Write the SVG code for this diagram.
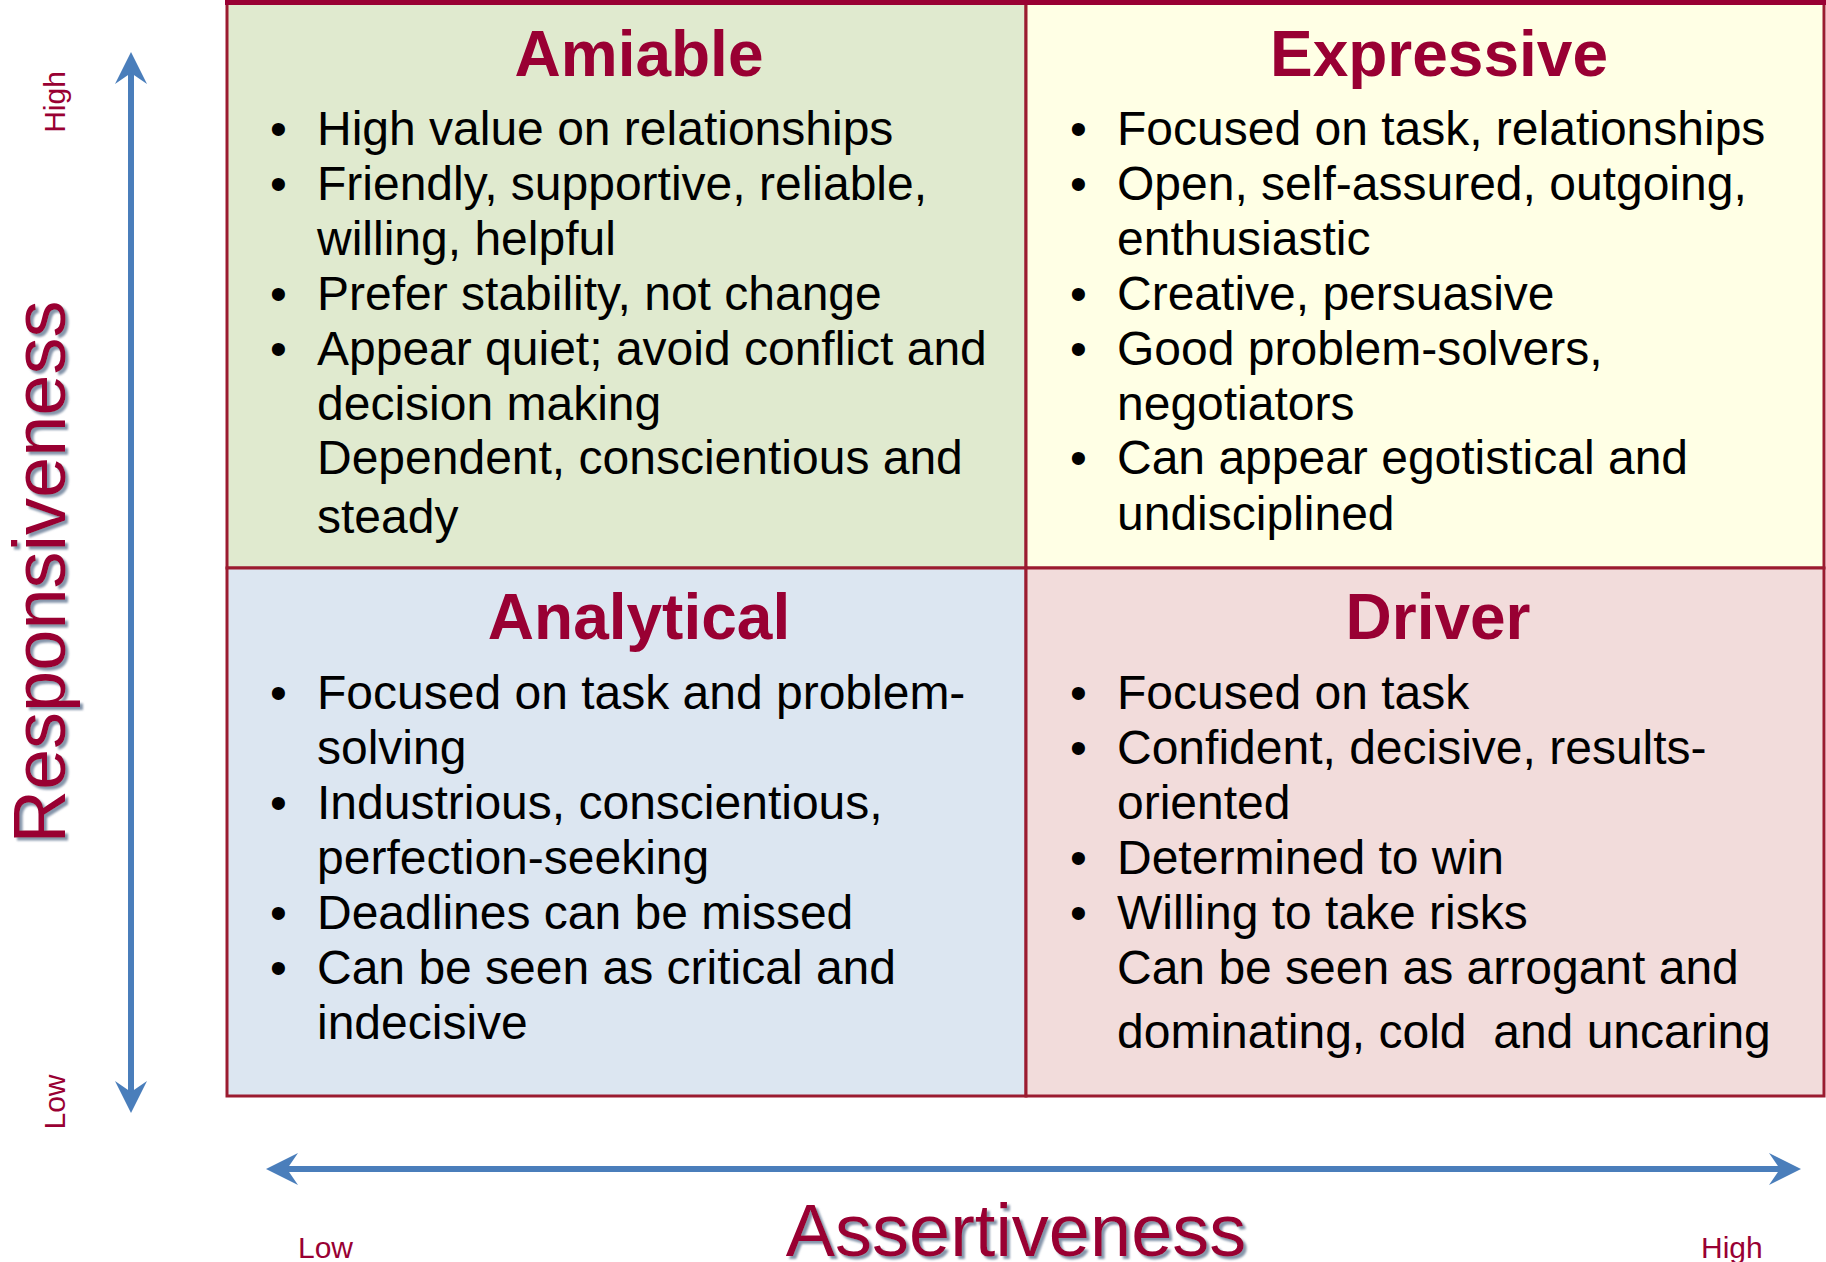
<svg xmlns="http://www.w3.org/2000/svg" width="1826" height="1262" viewBox="0 0 1826 1262">
<style>
.quad{stroke:#9b1b30;stroke-width:3}
.title{font-family:"Liberation Sans",Arial,sans-serif;font-weight:bold;font-size:64px;fill:#990033;text-anchor:middle}
.body{font-family:"Liberation Sans",Arial,sans-serif;font-size:48px;fill:#000}
.axis{stroke:#4a7ebb;stroke-width:6;fill:none}
.small{font-family:"Liberation Sans",Arial,sans-serif;font-size:30px;fill:#990033}
.big{font-family:"Liberation Sans",Arial,sans-serif;font-size:74px;fill:#990033;text-anchor:middle}
</style>
<defs>
<marker id="arrow" viewBox="-34 -17 34 34" refX="-20" refY="0" markerWidth="34" markerHeight="34" markerUnits="userSpaceOnUse" orient="auto-start-reverse">
<path d="M0,0 L-32,-16 L-21,0 L-32,16 Z" fill="#4a7ebb"/>
</marker>
<filter id="shadow" x="-10%" y="-10%" width="130%" height="130%">
<feDropShadow dx="3" dy="3" stdDeviation="1.2" flood-color="#6f829c" flood-opacity="0.85"/>
</filter>
</defs>

<g id="amiable">
<rect class="quad" x="227" y="3" width="799" height="565" fill="#e0eacf"/>
<text class="title" x="639" y="76">Amiable</text>
<text class="body" x="270" y="145">•</text><text class="body" x="317" y="145">High value on relationships</text>
<text class="body" x="270" y="200">•</text><text class="body" x="317" y="200">Friendly, supportive, reliable,</text>
<text class="body" x="317" y="255">willing, helpful</text>
<text class="body" x="270" y="310">•</text><text class="body" x="317" y="310">Prefer stability, not change</text>
<text class="body" x="270" y="365">•</text><text class="body" x="317" y="365">Appear quiet; avoid conflict and</text>
<text class="body" x="317" y="420">decision making</text>
<text class="body" x="317" y="474">Dependent, conscientious and</text>
<text class="body" x="317" y="533">steady</text>
</g>

<g id="expressive">
<rect class="quad" x="1026" y="3" width="798" height="565" fill="#ffffe5"/>
<text class="title" x="1439" y="76">Expressive</text>
<text class="body" x="1070" y="145">•</text><text class="body" x="1117" y="145">Focused on task, relationships</text>
<text class="body" x="1070" y="200">•</text><text class="body" x="1117" y="200">Open, self-assured, outgoing,</text>
<text class="body" x="1117" y="255">enthusiastic</text>
<text class="body" x="1070" y="310">•</text><text class="body" x="1117" y="310">Creative, persuasive</text>
<text class="body" x="1070" y="365">•</text><text class="body" x="1117" y="365">Good problem-solvers,</text>
<text class="body" x="1117" y="420">negotiators</text>
<text class="body" x="1070" y="474">•</text><text class="body" x="1117" y="474">Can appear egotistical and</text>
<text class="body" x="1117" y="530">undisciplined</text>
</g>

<g id="analytical">
<rect class="quad" x="227" y="568" width="799" height="528" fill="#dce6f1"/>
<text class="title" x="639" y="639">Analytical</text>
<text class="body" x="270" y="709">•</text><text class="body" x="317" y="709">Focused on task and problem-</text>
<text class="body" x="317" y="764">solving</text>
<text class="body" x="270" y="819">•</text><text class="body" x="317" y="819">Industrious, conscientious,</text>
<text class="body" x="317" y="874">perfection-seeking</text>
<text class="body" x="270" y="929">•</text><text class="body" x="317" y="929">Deadlines can be missed</text>
<text class="body" x="270" y="984">•</text><text class="body" x="317" y="984">Can be seen as critical and</text>
<text class="body" x="317" y="1039">indecisive</text>
</g>

<g id="driver">
<rect class="quad" x="1026" y="568" width="798" height="528" fill="#f2dcdb"/>
<text class="title" x="1438" y="639">Driver</text>
<text class="body" x="1070" y="709">•</text><text class="body" x="1117" y="709">Focused on task</text>
<text class="body" x="1070" y="764">•</text><text class="body" x="1117" y="764">Confident, decisive, results-</text>
<text class="body" x="1117" y="819">oriented</text>
<text class="body" x="1070" y="874">•</text><text class="body" x="1117" y="874">Determined to win</text>
<text class="body" x="1070" y="929">•</text><text class="body" x="1117" y="929">Willing to take risks</text>
<text class="body" x="1117" y="984">Can be seen as arrogant and</text>
<text class="body" x="1117" y="1048" style="white-space:pre">dominating, cold  and uncaring</text>
</g>

<line x1="225" y1="2.5" x2="1826" y2="2.5" stroke="#990033" stroke-width="5"/>

<g id="connectors">
<line class="axis" x1="131" y1="1093" x2="131" y2="72" marker-start="url(#arrow)" marker-end="url(#arrow)"/>
<line class="axis" x1="286" y1="1169" x2="1781" y2="1169" marker-start="url(#arrow)" marker-end="url(#arrow)"/>
</g>

<g id="labels">
<text class="small" text-anchor="middle" transform="translate(65,102) rotate(-90)">High</text>
<text class="small" text-anchor="middle" transform="translate(65,1102) rotate(-90)">Low</text>
<text class="small" x="298" y="1258">Low</text>
<text class="small" x="1701" y="1258">High</text>
<g filter="url(#shadow)">
<text class="big" transform="translate(65,572) rotate(-90)">Responsiveness</text>
<text class="big" x="1016" y="1256">Assertiveness</text>
</g>
</g>
</svg>
